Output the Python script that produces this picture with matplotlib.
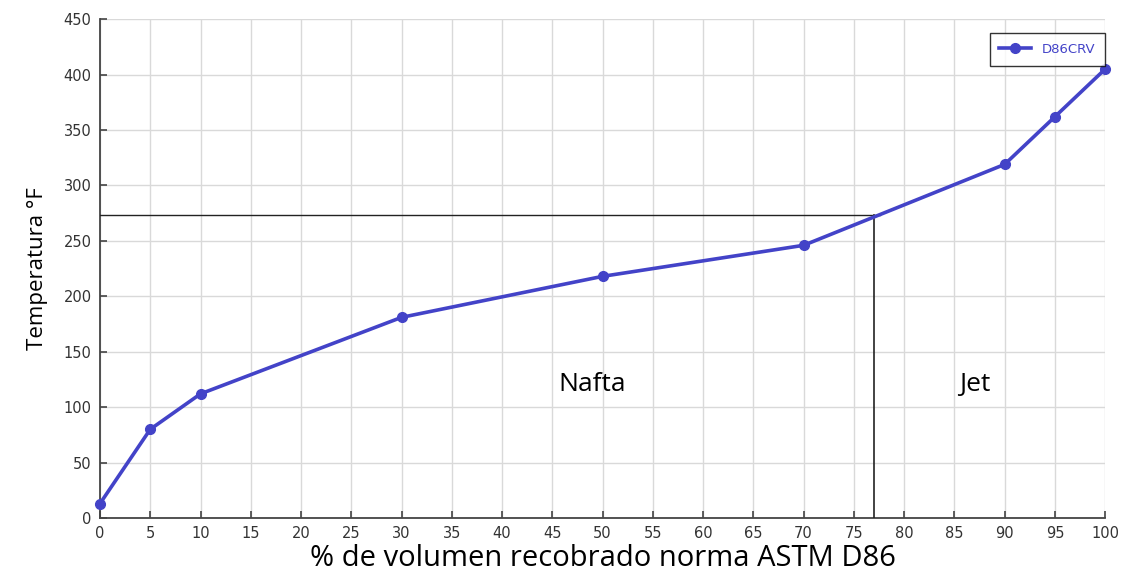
import matplotlib
matplotlib.use('Agg')
import matplotlib.pyplot as plt

# data
pct_vol = [0, 5, 10, 30, 50, 70, 90, 95, 100]
temp_f = [13, 80, 112, 181, 218, 246, 319, 362, 405]
cut_x = 77
cut_y = 273
x_ticks = list(range(0, 101, 5))
y_ticks = list(range(0, 451, 50))

blue = '#4343C8'

fig = plt.figure(figsize=(11.3, 5.82), dpi=100)
ax = fig.add_axes([0.0885, 0.11, 0.8895, 0.857])

ax.plot(pct_vol, temp_f, color=blue, lw=2.6, marker='o', ms=7, label='D86CRV',
        zorder=4, clip_on=False)

# cut point lines
ax.plot([0, cut_x + 0.6], [cut_y, cut_y], color='#222222', lw=1.0, zorder=3)
ax.plot([cut_x, cut_x], [0, cut_y], color='#222222', lw=1.2, zorder=3)

ax.text(49.0, 120, 'Nafta', fontsize=19, family='Open Sans', ha='center', va='center')
ax.text(87.0, 120, 'Jet', fontsize=19, family='Open Sans', ha='center', va='center')

ax.set_xlim(0, 100)
ax.set_ylim(0, 450)
ax.set_xticks(x_ticks)
ax.set_yticks(y_ticks)
ax.grid(True, color='#d9d9d9', lw=1.0)
ax.set_axisbelow(True)
for s in ['top', 'right']:
    ax.spines[s].set_visible(False)
for s in ['left', 'bottom']:
    ax.spines[s].set_color('#444444')
    ax.spines[s].set_linewidth(1.3)
ax.tick_params(direction='in', length=5, width=1.2, color='#444444',
               labelsize=10.5, labelcolor='#333333', pad=6)

ax.set_ylabel('Temperatura °F', fontsize=16, family='Open Sans', labelpad=11)
ax.set_xlabel('% de volumen recobrado norma ASTM D86', fontsize=21,
              family='Open Sans', labelpad=2)

leg = ax.legend(loc='upper right', bbox_to_anchor=(1.0, 0.972), fontsize=9.5,
                frameon=True, fancybox=False, borderpad=0.75, handlelength=2.4,
                borderaxespad=0, labelcolor=blue)
leg.get_frame().set_edgecolor('black')
leg.get_frame().set_linewidth(1.0)

fig.savefig('out.png', dpi=100)
